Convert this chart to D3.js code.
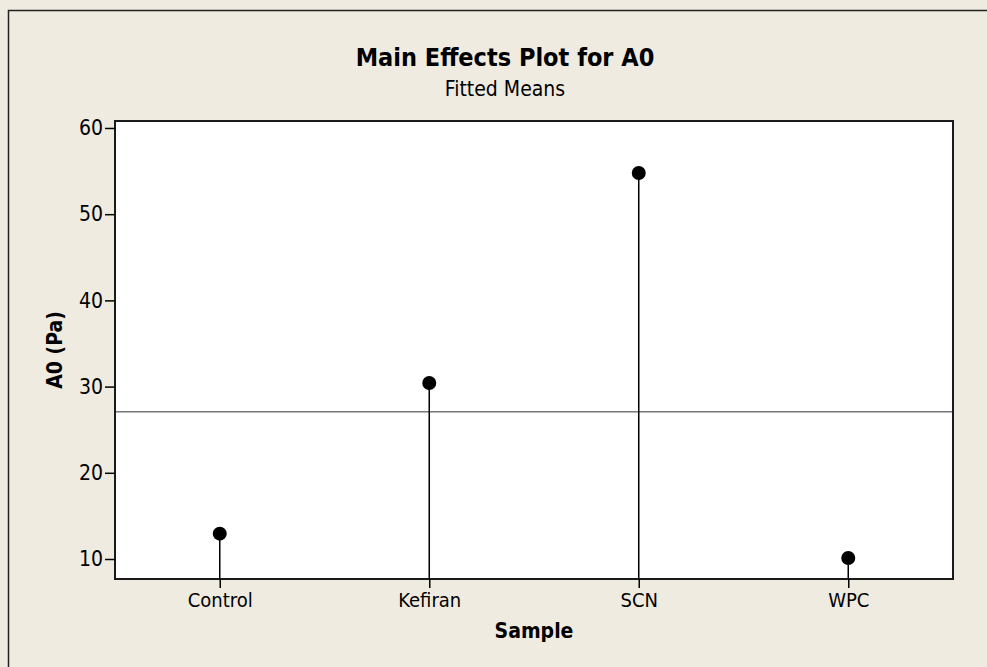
<!DOCTYPE html>
<html>
<head>
<meta charset="utf-8">
<script src="https://cdn.jsdelivr.net/npm/d3@7"></script>
<style>
  html, body { margin: 0; padding: 0; background: #efebe1; }
  svg { display: block; }
  text { font-family: "DejaVu Sans Condensed", "DejaVu Sans", sans-serif; fill: #000; }
</style>
</head>
<body>
<script>
// data
var samples = ["Control", "Kefiran", "SCN", "WPC"];
var fittedMeans = [12.94, 30.42, 54.78, 10.12];
var grandMean = 27.07;
var yTicks = [10, 20, 30, 40, 50, 60];
var yDomain = [7.68, 60.81];

var width = 987, height = 667,
    margin = {top: 121, right: 34, bottom: 88, left: 115};

var svg = d3.select("body").append("svg")
    .attr("width", width)
    .attr("height", height);

// outer frame (runs off the right/bottom edge like the original)
svg.append("rect")
    .attr("x", 8.5).attr("y", 10.5)
    .attr("width", 1200).attr("height", 1200)
    .attr("fill", "#efebe1")
    .attr("stroke", "#222")
    .attr("stroke-width", 1.5);

var x = d3.scalePoint()
    .domain(samples)
    .range([margin.left, width - margin.right])
    .padding(0.5);

var y = d3.scaleLinear()
    .domain(yDomain)
    .range([height - margin.bottom, margin.top]);

// plot area
svg.append("rect")
    .attr("x", margin.left).attr("y", margin.top)
    .attr("width", width - margin.left - margin.right)
    .attr("height", height - margin.top - margin.bottom)
    .attr("fill", "#fff");

// reference line at the overall mean
svg.append("line")
    .attr("x1", margin.left).attr("x2", width - margin.right)
    .attr("y1", y(grandMean)).attr("y2", y(grandMean))
    .attr("stroke", "#333")
    .attr("stroke-width", 1);

var pts = samples.map(function(s, i) { return {sample: s, mean: fittedMeans[i]}; });

svg.selectAll(".stem")
    .data(pts)
  .enter().append("line")
    .attr("class", "stem")
    .attr("x1", function(d) { return x(d.sample); })
    .attr("x2", function(d) { return x(d.sample); })
    .attr("y1", height - margin.bottom)
    .attr("y2", function(d) { return y(d.mean); })
    .attr("stroke", "#000")
    .attr("stroke-width", 1.5);

svg.selectAll(".dot")
    .data(pts)
  .enter().append("circle")
    .attr("class", "dot")
    .attr("cx", function(d) { return x(d.sample); })
    .attr("cy", function(d) { return y(d.mean); })
    .attr("r", 7)
    .attr("fill", "#000");

// border of the plot area
svg.append("rect")
    .attr("x", margin.left).attr("y", margin.top)
    .attr("width", width - margin.left - margin.right)
    .attr("height", height - margin.top - margin.bottom)
    .attr("fill", "none")
    .attr("stroke", "#1a1a1a")
    .attr("stroke-width", 2);

var xAxis = svg.append("g")
    .attr("transform", "translate(0," + (height - margin.bottom) + ")")
    .call(d3.axisBottom(x).tickSize(9).tickPadding(5));
xAxis.select(".domain").remove();
xAxis.selectAll("line").attr("stroke", "#000").attr("stroke-width", 1.5);
xAxis.selectAll("text").attr("font-size", 20).attr("fill", "#000")
    .style("font-family", "'DejaVu Sans Condensed', 'DejaVu Sans', sans-serif");

var yAxis = svg.append("g")
    .attr("transform", "translate(" + margin.left + ",0)")
    .call(d3.axisLeft(y).tickValues(yTicks).tickSize(10).tickPadding(2));
yAxis.select(".domain").remove();
yAxis.selectAll("line").attr("stroke", "#000").attr("stroke-width", 1.5);
yAxis.selectAll("text").attr("font-size", 21).attr("fill", "#000")
    .style("font-family", "'DejaVu Sans Condensed', 'DejaVu Sans', sans-serif");

// titles
svg.append("text")
    .attr("x", 505).attr("y", 66)
    .attr("text-anchor", "middle")
    .attr("font-size", 25)
    .attr("font-weight", "bold")
    .text("Main Effects Plot for A0");

svg.append("text")
    .attr("x", 505).attr("y", 96)
    .attr("text-anchor", "middle")
    .attr("font-size", 21)
    .text("Fitted Means");

svg.append("text")
    .attr("x", (margin.left + width - margin.right) / 2)
    .attr("y", 638)
    .attr("text-anchor", "middle")
    .attr("font-size", 21)
    .attr("font-weight", "bold")
    .text("Sample");

svg.append("text")
    .attr("transform", "translate(62," + ((margin.top + height - margin.bottom) / 2) + ") rotate(-90)")
    .attr("text-anchor", "middle")
    .attr("font-size", 21)
    .attr("font-weight", "bold")
    .text("A0 (Pa)");
</script>
</body>
</html>
